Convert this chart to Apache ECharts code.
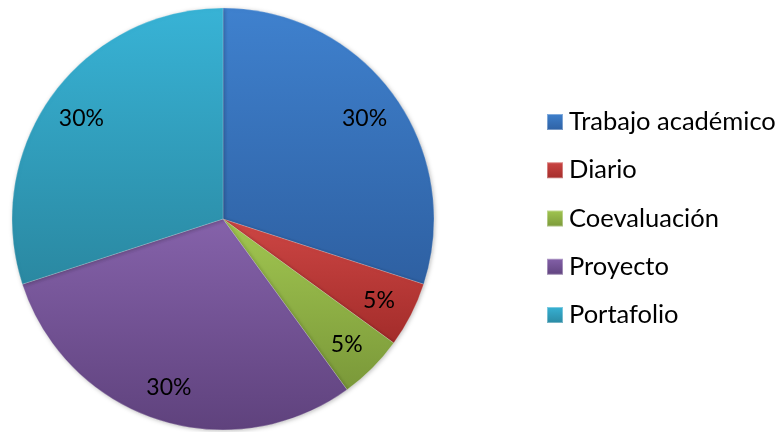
<!DOCTYPE html>
<html><head><meta charset="utf-8">
<script src="https://cdn.jsdelivr.net/npm/echarts@6/dist/echarts.min.js"></script>
<style>html,body{margin:0;padding:0;background:#fff}#c{width:779px;height:432px}</style>
</head><body><div id="c"></div>
<script>
const categories = ['Trabajo académico', 'Diario', 'Coevaluación', 'Proyecto', 'Portafolio'];
const values = [30, 5, 5, 30, 30];
const topColors = ['#3f81ce', '#cd4644', '#a2c751', '#8562aa', '#38b3d6'];
const bottomColors = ['#2e60a2', '#a32c2a', '#7a9839', '#5f427d', '#2a88a1'];

function grad(i){
  return new echarts.graphic.LinearGradient(0,0,0,1,[
    {offset:0,color:topColors[i]},{offset:1,color:bottomColors[i]}]);
}
const font = 'Lato, "Open Sans", sans-serif';
const chart = echarts.init(document.getElementById('c'));
chart.setOption({
  animation:false,
  legend:{
    orient:'vertical', left:546, top:109, padding:0,
    itemWidth:16, itemHeight:16, itemGap:22.25,
    icon:'rect',
    textStyle:{fontSize:25.5, lineHeight:26, color:'#000', fontFamily:font, padding:[0,0,0,1]},
    data: categories.map((n,i)=>({name:n, itemStyle:{color:grad(i)}}))
  },
  series:[{
    type:'pie', center:[223,219], radius:[0,211], startAngle:90, clockwise:true,
    label:{show:false}, labelLine:{show:false}, silent:true,
    itemStyle:{shadowBlur:4, shadowColor:'rgba(0,0,0,0.25)', shadowOffsetX:1, shadowOffsetY:1,
      borderColor:'rgba(255,255,255,0.35)', borderWidth:0.6},
    data: categories.map((n,i)=>({name:n, value:values[i], itemStyle:{color:grad(i)}}))
  },{
    type:'pie', center:[223,221], radius:[133,211], startAngle:90, clockwise:true,
    silent:true,
    itemStyle:{color:'rgba(0,0,0,0)'},
    label:{show:true, position:'inside', formatter:'{d}%', fontSize:23, color:'#000', fontFamily:font},
    labelLine:{show:false},
    data: categories.map((n,i)=>({name:n, value:values[i]}))
  }]
});
</script></body></html>
